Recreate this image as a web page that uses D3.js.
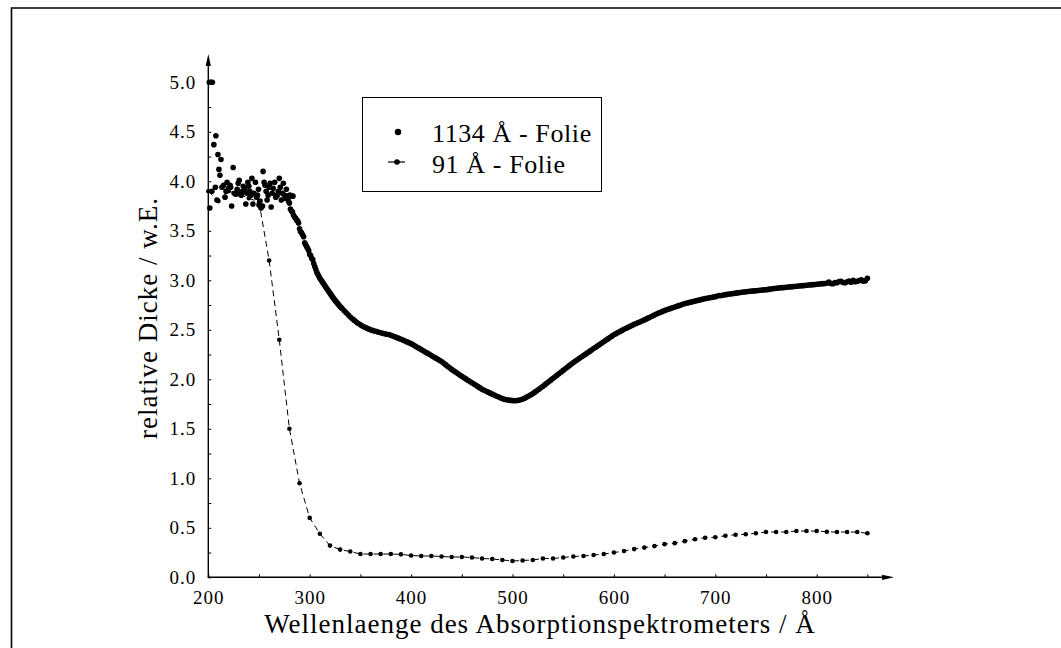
<!DOCTYPE html>
<html>
<head>
<meta charset="utf-8">
<script src="https://cdn.jsdelivr.net/npm/d3@7"></script>
<style>
  html, body { margin: 0; padding: 0; background: #fff; }
  svg { display: block; }
  svg text { font-family: "Liberation Serif", "Times New Roman", serif; fill: #000; }
</style>
</head>
<body>
<div id="chart"></div>
<script>
// relative thickness of two foils vs. spectrometer wavelength

// 1134 Å foil: scattered points in the noisy start region [wavelength, value]
const foil1134Noisy = [
  [201, 5.0], [202.5, 5.0], [204, 5.0], [201.5, 3.73], [203.5, 3.90],
  [205.5, 4.37], [207.5, 4.46], [207, 3.94], [208.5, 3.81], [209.5, 4.27],
  [210.5, 4.12], [211.5, 4.06], [212.5, 4.22], [213.5, 3.94], [215, 3.96],
  [216.5, 3.84], [217.5, 3.90], [218.5, 3.99], [220, 3.93], [221.5, 3.96],
  [222, 3.94], [223, 3.75], [224.5, 4.14], [225.5, 3.88], [227, 3.87],
  [228.5, 3.92], [229.5, 3.98], [230.5, 4.01], [231.5, 3.88], [232.5, 3.86],
  [233.5, 3.90], [234.5, 3.95], [236, 3.92], [237, 3.77], [238, 3.88],
  [239, 3.99], [240, 3.95], [241, 3.90], [242, 3.86], [243, 4.03],
  [244, 3.77], [245, 3.88], [246.5, 3.99], [247.5, 3.84], [248.5, 3.86],
  [249.5, 3.92], [250, 3.76], [251, 3.80], [252, 3.73], [253.5, 3.75],
  [254, 4.10], [255, 3.99], [256, 3.96], [257, 3.90], [258, 3.81],
  [259, 3.86], [260, 3.94], [261, 3.98], [262, 3.74], [263, 3.88],
  [264, 3.93], [265.5, 3.99], [266.5, 3.84], [268, 3.86], [269, 3.90],
  [270, 4.03], [271, 3.94], [272, 3.81], [273, 3.88], [274, 3.98],
  [275, 3.86], [276, 3.83], [277, 3.92], [278, 3.85], [279, 3.80],
  [280.5, 3.86], [282, 3.85], [283.5, 3.85]
];

// 1134 Å foil: steep edge, one point per Å from 280 Å
const foil1134EdgeStart = 280;
const foil1134EdgeStep = 1;
const foil1134Edge = [
  3.78, 3.72, 3.70, 3.69, 3.66, 3.64, 3.63, 3.61, 3.60, 3.58,
  3.52, 3.49, 3.48, 3.46, 3.44, 3.38, 3.36, 3.34, 3.32, 3.30,
  3.26, 3.25, 3.22, 3.21, 3.17, 3.14, 3.11, 3.08, 3.06, 3.04,
  3.02, 3.005, 2.99, 2.975, 2.96, 2.945, 2.93, 2.915, 2.90, 2.885,
  2.87, 2.855, 2.84, 2.825, 2.81, 2.797, 2.785, 2.772, 2.76, 2.748,
  2.735, 2.724
];

// 1134 Å foil: rest of the curve, every 2 Å from 332 Å
const foil1134SmoothStart = 332;
const foil1134SmoothStep = 2;
const foil1134Smooth = [
  2.714, 2.693, 2.672, 2.651, 2.63, 2.612, 2.595, 2.578, 2.563, 2.55,
  2.539, 2.529, 2.519, 2.509, 2.50, 2.494, 2.488, 2.482, 2.476, 2.47,
  2.465, 2.46, 2.455, 2.452, 2.445, 2.437, 2.429, 2.421, 2.413, 2.405,
  2.396, 2.387, 2.378, 2.369, 2.36, 2.348, 2.336, 2.324, 2.312, 2.30,
  2.288, 2.276, 2.264, 2.252, 2.24, 2.228, 2.216, 2.204, 2.192, 2.18,
  2.164, 2.148, 2.132, 2.116, 2.10, 2.086, 2.072, 2.058, 2.044, 2.03,
  2.017, 2.004, 1.991, 1.978, 1.965, 1.952, 1.939, 1.926, 1.913, 1.90,
  1.89, 1.88, 1.87, 1.86, 1.85, 1.841, 1.832, 1.823, 1.814, 1.805,
  1.799, 1.794, 1.79, 1.787, 1.785, 1.784, 1.785, 1.788, 1.793, 1.80,
  1.809, 1.82, 1.831, 1.843, 1.855, 1.87, 1.885, 1.90, 1.915, 1.93,
  1.946, 1.962, 1.978, 1.994, 2.01, 2.026, 2.042, 2.058, 2.074, 2.09,
  2.106, 2.122, 2.138, 2.154, 2.17, 2.184, 2.198, 2.212, 2.226, 2.24,
  2.254, 2.268, 2.282, 2.296, 2.31, 2.324, 2.338, 2.352, 2.366, 2.38,
  2.394, 2.408, 2.422, 2.436, 2.45, 2.461, 2.472, 2.483, 2.494, 2.505,
  2.515, 2.525, 2.535, 2.545, 2.555, 2.564, 2.573, 2.582, 2.591, 2.60,
  2.61, 2.62, 2.63, 2.64, 2.65, 2.659, 2.668, 2.677, 2.686, 2.695,
  2.702, 2.709, 2.716, 2.723, 2.73, 2.737, 2.744, 2.751, 2.758, 2.765,
  2.77, 2.775, 2.78, 2.785, 2.79, 2.795, 2.80, 2.805, 2.81, 2.815,
  2.819, 2.823, 2.827, 2.831, 2.835, 2.842, 2.846, 2.847, 2.851, 2.855,
  2.858, 2.861, 2.864, 2.867, 2.87, 2.873, 2.876, 2.879, 2.882, 2.885,
  2.887, 2.889, 2.891, 2.893, 2.895, 2.897, 2.899, 2.901, 2.903, 2.905,
  2.908, 2.911, 2.914, 2.917, 2.92, 2.922, 2.924, 2.926, 2.928, 2.93,
  2.932, 2.934, 2.936, 2.938, 2.94, 2.942, 2.944, 2.946, 2.948, 2.95,
  2.952, 2.954, 2.956, 2.958, 2.96, 2.962, 2.964, 2.966, 2.968, 2.97,
  2.982, 2.968, 2.965, 2.978, 2.975, 2.988, 2.99, 2.978, 2.975, 2.985,
  2.992, 2.98, 3.0, 2.985, 2.99, 2.998, 3.005, 2.99, 2.995
];
const foil1134Last = [[850, 3.02]];

// 91 Å foil, every 10 Å
const foil91X = [
  200, 210, 220, 230, 240, 250, 260, 270, 280, 290,
  300, 310, 320, 330, 340, 350, 360, 370, 380, 390,
  400, 410, 420, 430, 440, 450, 460, 470, 480, 490,
  500, 510, 520, 530, 540, 550, 560, 570, 580, 590,
  600, 610, 620, 630, 640, 650, 660, 670, 680, 690,
  700, 710, 720, 730, 740, 750, 760, 770, 780, 790,
  800, 810, 820, 830, 840, 850
];
const foil91Y = [
  3.90, 3.80, 3.90, 3.87, 3.83, 3.79, 3.20, 2.40, 1.50, 0.95,
  0.60, 0.44, 0.32, 0.28, 0.26, 0.235, 0.235, 0.235, 0.235, 0.232,
  0.22, 0.215, 0.215, 0.21, 0.205, 0.205, 0.20, 0.19, 0.185, 0.175,
  0.165, 0.17, 0.175, 0.19, 0.19, 0.20, 0.21, 0.215, 0.225, 0.235,
  0.25, 0.265, 0.285, 0.30, 0.315, 0.335, 0.345, 0.365, 0.385, 0.40,
  0.405, 0.42, 0.43, 0.435, 0.445, 0.457, 0.457, 0.457, 0.467, 0.467,
  0.467, 0.46, 0.457, 0.457, 0.457, 0.445
];

const xTickLabels = [200, 300, 400, 500, 600, 700, 800];
const xMinorTicks = [250, 350, 450, 550, 650, 750, 850];
const yTickLabels = [0.0, 0.5, 1.0, 1.5, 2.0, 2.5, 3.0, 3.5, 4.0, 4.5, 5.0];
const yMinorTicks = [0.25, 0.75, 1.25, 1.75, 2.25, 2.75, 3.25, 3.75, 4.25, 4.75];

const legendItems = ['1134 Å - Folie', '91 Å - Folie'];
const xTitle = 'Wellenlaenge des Absorptionspektrometers / Å';
const yTitle = 'relative Dicke / w.E.';

const W = 1061, H = 648;
const X0 = 208.3, Y0 = 577.3;
const FONT = '"Liberation Serif", "Times New Roman", serif';

const svg = d3.select('#chart').append('svg')
  .attr('width', W).attr('height', H).attr('viewBox', `0 0 ${W} ${H}`)
  .attr('font-family', FONT);

const x = d3.scaleLinear().domain([200, 850]).range([X0, X0 + 650 * 1.014]);
const y = d3.scaleLinear().domain([0, 5]).range([Y0, Y0 - 495]);

// outer frame (cut at the right and bottom)
svg.append('path')
  .attr('d', `M11.5,${H} L11.5,8 L${W},8`)
  .attr('fill', 'none').attr('stroke', '#000').attr('stroke-width', 1.6);

// assemble 1134 points
const thick = foil1134Noisy.map(d => ({ x: d[0], y: d[1] }))
  .concat(foil1134Edge.map((v, i) => ({ x: foil1134EdgeStart + i * foil1134EdgeStep, y: v })))
  .concat(foil1134Smooth.map((v, i) => ({ x: foil1134SmoothStart + i * foil1134SmoothStep, y: v })))
  .concat(foil1134Last.map(d => ({ x: d[0], y: d[1] })));
const thin = foil91X.map((v, i) => ({ x: v, y: foil91Y[i] }));

// axes: inward ticks, arrows drawn separately
function styleAxis(g) {
  g.attr('font-family', FONT).attr('font-size', 19);
  g.select('.domain').remove();
  g.selectAll('.tick line').attr('stroke', '#000');
  g.selectAll('.tick text').attr('fill', '#000').attr('letter-spacing', 1);
}
svg.append('g').attr('transform', `translate(0,${Y0})`)
  .call(d3.axisBottom(x).tickValues(xTickLabels).tickFormat(d3.format('d'))
    .tickSizeInner(-3).tickSizeOuter(0).tickPadding(13))
  .call(styleAxis);
svg.append('g').attr('transform', `translate(0,${Y0})`)
  .call(d3.axisBottom(x).tickValues(xMinorTicks).tickFormat('')
    .tickSizeInner(-3).tickSizeOuter(0))
  .call(styleAxis);
svg.append('g').attr('transform', `translate(${X0},0)`)
  .call(d3.axisLeft(y).tickValues(yTickLabels).tickFormat(d3.format('.1f'))
    .tickSizeInner(-3).tickSizeOuter(0).tickPadding(12))
  .call(styleAxis);
svg.append('g').attr('transform', `translate(${X0},0)`)
  .call(d3.axisLeft(y).tickValues(yMinorTicks).tickFormat('')
    .tickSizeInner(-3).tickSizeOuter(0))
  .call(styleAxis);

svg.append('line').attr('x1', X0).attr('x2', X0).attr('y1', Y0 + 0.5).attr('y2', 62)
  .attr('stroke', '#000').attr('stroke-width', 1.4);
svg.append('path').attr('d', `M${X0},54 L${X0 - 2.6},66 L${X0 + 2.6},66 Z`).attr('fill', '#000');
svg.append('line').attr('x1', X0 - 0.5).attr('x2', 886).attr('y1', Y0).attr('y2', Y0)
  .attr('stroke', '#000').attr('stroke-width', 1.4);
svg.append('path').attr('d', `M894,${Y0} L882,${Y0 - 2.6} L882,${Y0 + 2.6} Z`).attr('fill', '#000');

// 91 Å: dashed line with small dots
const line = d3.line().x(d => x(d.x)).y(d => y(d.y));
svg.append('path').attr('d', line(thin))
  .attr('fill', 'none').attr('stroke', '#000').attr('stroke-width', 1)
  .attr('stroke-dasharray', '6 4');
svg.append('g').selectAll('circle').data(thin).join('circle')
  .attr('cx', d => x(d.x)).attr('cy', d => y(d.y)).attr('r', 2.3).attr('fill', '#000');

// 1134 Å: dense dots
svg.append('g').selectAll('circle').data(thick).join('circle')
  .attr('cx', d => x(d.x)).attr('cy', d => y(d.y)).attr('r', 2.8).attr('fill', '#000');

// legend
const lg = svg.append('g');
lg.append('rect').attr('x', 362.5).attr('y', 97.5).attr('width', 239).attr('height', 94)
  .attr('fill', '#fff').attr('stroke', '#000').attr('stroke-width', 1);
lg.append('circle').attr('cx', 398).attr('cy', 132).attr('r', 3.2).attr('fill', '#000');
lg.append('line').attr('x1', 388).attr('x2', 405).attr('y1', 162).attr('y2', 162)
  .attr('stroke', '#000').attr('stroke-width', 1.2);
lg.append('circle').attr('cx', 397).attr('cy', 162).attr('r', 2.8).attr('fill', '#000');
lg.selectAll('text').data(legendItems).join('text')
  .attr('x', 432).attr('y', (d, i) => 142 + i * 31)
  .attr('font-size', 26).attr('letter-spacing', 0.6).text(d => d);

// titles
svg.append('text').attr('x', 540).attr('y', 633).attr('text-anchor', 'middle')
  .attr('font-size', 27).attr('letter-spacing', 1).text(xTitle);
svg.append('text').attr('transform', 'translate(157,318) rotate(-90)')
  .attr('text-anchor', 'middle').attr('font-size', 27).attr('letter-spacing', 1).text(yTitle);
</script>
</body>
</html>
